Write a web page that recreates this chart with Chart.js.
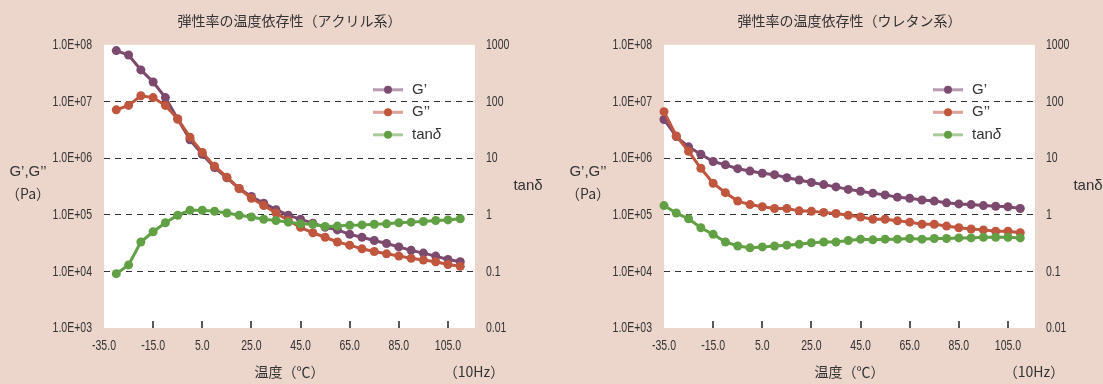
<!DOCTYPE html>
<html lang="ja">
<head>
<meta charset="utf-8">
<title>弾性率の温度依存性</title>
<script src="https://cdn.jsdelivr.net/npm/chart.js@4.4.1/dist/chart.umd.min.js"></script>
<style>
  html, body { margin: 0; padding: 0; background: #ecd6cc; }
  #wrap { position: relative; width: 1103px; height: 384px; overflow: hidden; }
  canvas { position: absolute; top: 0; }
  #chartA { left: 0; }
  #chartU { left: 560px; }
</style>
</head>
<body>
<div id="wrap">
  <canvas id="chartA" width="560" height="384"></canvas>
  <canvas id="chartU" width="543" height="384"></canvas>
</div>
<script>
// --- data (10Hz) ---
const seriesNames = ['G’', 'G’’', 'tanδ'];
const seriesColors = ['#7b4a6e', '#c0563e', '#62a045'];

// x axis
const xTickVals = [-35, -15, 5, 25, 45, 65, 85, 105];
const xTickLabels = ['-35.0', '-15.0', '5.0', '25.0', '45.0', '65.0', '85.0', '105.0'];
// left axis G',G'' (Pa)
const yTickVals = [1e3, 1e4, 1e5, 1e6, 1e7, 1e8];
const yTickLabels = ['1.0E+03', '1.0E+04', '1.0E+05', '1.0E+06', '1.0E+07', '1.0E+08'];
// right axis tanδ
const tanTickVals = [0.01, 0.1, 1, 10, 100, 1000];
const tanTickLabels = ['0.01', '0.1', '1', '10', '100', '1000'];

// アクリル系
const tempAcryl = [-30, -25, -20, -15, -10, -5, 0, 5, 10, 15, 20, 25, 30, 35, 40,
                   45, 50, 55, 60, 65, 70, 75, 80, 85, 90, 95, 100, 105, 110];
const gStorageAcryl = [7.9e7, 6.6e7, 3.6e7, 2.2e7, 1.17e7, 4.9e6, 2.1e6, 1.17e6, 6.8e5, 4.5e5,
                       2.9e5, 2.1e5, 1.6e5, 1.23e5, 9.8e4, 8.3e4, 7.1e4, 6.0e4, 5.4e4, 4.5e4,
                       4.0e4, 3.5e4, 3.1e4, 2.7e4, 2.35e4, 2.1e4, 1.86e4, 1.62e4, 1.48e4];
const gLossAcryl = [7.1e6, 8.5e6, 1.26e7, 1.17e7, 8.5e6, 4.9e6, 2.34e6, 1.26e6, 7.2e5, 4.6e5,
                    2.9e5, 1.95e5, 1.45e5, 1.07e5, 7.9e4, 6.0e4, 4.8e4, 4.0e4, 3.3e4, 2.9e4,
                    2.5e4, 2.24e4, 2.04e4, 1.86e4, 1.7e4, 1.58e4, 1.48e4, 1.32e4, 1.23e4];
const tanAcryl = [0.091, 0.13, 0.33, 0.50, 0.72, 0.98, 1.2, 1.2, 1.15, 1.07,
                  0.98, 0.91, 0.83, 0.79, 0.74, 0.69, 0.68, 0.62, 0.63, 0.65,
                  0.66, 0.68, 0.69, 0.72, 0.74, 0.76, 0.79, 0.81, 0.85];

// ウレタン系
const tempUrethane = [-35, -30, -25, -20, -15, -10, -5, 0, 5, 10, 15, 20, 25, 30, 35, 40,
                      45, 50, 55, 60, 65, 70, 75, 80, 85, 90, 95, 100, 105, 110];
const gStorageUrethane = [4.8e6, 2.4e6, 1.58e6, 1.17e6, 8.7e5, 7.6e5, 6.5e5, 5.9e5, 5.4e5, 5.1e5,
                          4.5e5, 4.1e5, 3.7e5, 3.4e5, 3.1e5, 2.8e5, 2.6e5, 2.4e5, 2.24e5, 2.04e5,
                          1.95e5, 1.82e5, 1.74e5, 1.62e5, 1.55e5, 1.51e5, 1.45e5, 1.41e5, 1.38e5, 1.29e5];
const gLossUrethane = [6.6e6, 2.45e6, 1.32e6, 6.6e5, 3.6e5, 2.45e5, 1.74e5, 1.51e5, 1.38e5, 1.29e5,
                       1.29e5, 1.17e5, 1.15e5, 1.10e5, 1.05e5, 9.8e4, 9.1e4, 8.3e4, 8.3e4, 7.8e4,
                       7.4e4, 6.8e4, 6.8e4, 6.3e4, 5.9e4, 5.6e4, 5.4e4, 5.1e4, 5.1e4, 4.8e4];
const tanUrethane = [1.45, 1.07, 0.85, 0.59, 0.45, 0.33, 0.28, 0.26, 0.27, 0.28,
                     0.29, 0.30, 0.32, 0.33, 0.33, 0.35, 0.37, 0.36, 0.37, 0.37,
                     0.38, 0.37, 0.38, 0.38, 0.39, 0.39, 0.40, 0.40, 0.40, 0.39];

const JP_FONT = "'Noto Sans CJK JP', sans-serif";
const LATIN_FONT = "'Liberation Sans', Arial, sans-serif";
const TEXT = '#333';
const HIDDEN = 'rgba(0,0,0,0)';

// tick labels in the reference use a condensed face: squeeze regular text
function narrowText(ctx, text, x, y, align) {
  ctx.save();
  ctx.translate(x, y);
  ctx.scale(0.7, 1);
  ctx.textAlign = align;
  ctx.fillText(text, 0, 0);
  ctx.restore();
}

// background, tick labels, inner tick marks, axis titles, legend
const decor = {
  id: 'decor',
  beforeDraw(chart) {
    const { ctx, chartArea: a } = chart;
    ctx.save();
    ctx.fillStyle = '#fff';
    ctx.fillRect(a.left, a.top, a.right - a.left, a.bottom - a.top);
    ctx.restore();
  },
  afterDraw(chart) {
    const { ctx, chartArea: a, scales } = chart;
    ctx.save();

    // tick labels
    ctx.fillStyle = '#333';
    ctx.textBaseline = 'middle';
    ctx.font = '15px ' + LATIN_FONT;
    scales.x.ticks.forEach(t => {
      narrowText(ctx, t.label, scales.x.getPixelForValue(t.value), 346, 'center');
    });
    scales.y.ticks.forEach(t => {
      narrowText(ctx, t.label, a.left - 12, scales.y.getPixelForValue(t.value), 'right');
    });
    scales.y1.ticks.forEach(t => {
      narrowText(ctx, t.label, a.right + 11, scales.y1.getPixelForValue(t.value), 'left');
    });

    // tick marks pointing inwards from the bottom edge
    ctx.strokeStyle = '#222';
    ctx.lineWidth = 1.5;
    scales.x.ticks.forEach(t => {
      if (t.value <= scales.x.min) return;
      const px = Math.round(scales.x.getPixelForValue(t.value));
      ctx.beginPath();
      ctx.moveTo(px, a.bottom);
      ctx.lineTo(px, a.bottom - 7);
      ctx.stroke();
    });

    // axis titles
    ctx.fillStyle = TEXT;
    ctx.textAlign = 'center';
    ctx.font = '15px ' + LATIN_FONT;
    ctx.fillText('G’,G’’', a.left - 76, 172);
    ctx.font = '14px ' + JP_FONT;
    ctx.fillText('（Pa）', a.left - 76, 194);
    ctx.font = '15px ' + LATIN_FONT;
    ctx.fillText('tanδ', a.right + 53, 186);
    ctx.font = '14px ' + JP_FONT;
    ctx.fillText('温度（℃）', (a.left + a.right) / 2, 372);
    ctx.fillText('（10Hz）', a.right - 1, 372);

    // legend inside the plot
    const x0 = a.left + 269;
    seriesNames.forEach((name, i) => {
      const y = a.top + 45 + i * 22.5;
      ctx.globalAlpha = 0.55;
      ctx.strokeStyle = seriesColors[i];
      ctx.lineWidth = 3;
      ctx.beginPath();
      ctx.moveTo(x0, y);
      ctx.lineTo(x0 + 30, y);
      ctx.stroke();
      ctx.globalAlpha = 1;
      ctx.fillStyle = seriesColors[i];
      ctx.beginPath();
      ctx.arc(x0 + 15, y, 4, 0, Math.PI * 2);
      ctx.fill();
      ctx.fillStyle = TEXT;
      ctx.textAlign = 'left';
      ctx.font = '15px ' + LATIN_FONT;
      if (name === 'tanδ') {
        ctx.fillText('tan', x0 + 39, y);
        const w = ctx.measureText('tan').width;
        ctx.font = 'italic 15px ' + LATIN_FONT;
        ctx.fillText('δ', x0 + 39 + w, y);
      } else {
        ctx.fillText(name, x0 + 39, y);
      }
    });
    ctx.restore();
  }
};

function dataset(temps, vals, i, axis, order) {
  return {
    label: seriesNames[i],
    data: temps.map((t, k) => ({ x: t, y: vals[k] })),
    yAxisID: axis,
    borderColor: seriesColors[i],
    backgroundColor: seriesColors[i],
    pointBackgroundColor: seriesColors[i],
    pointBorderWidth: 0,
    pointRadius: 4.5,
    borderWidth: 3,
    tension: 0,
    clip: false,
    order: order
  };
}

function makeChart(id, title, temps, gs, gl, tan) {
  const cv = document.getElementById(id);
  return new Chart(cv, {
    type: 'line',
    data: {
      datasets: [
        dataset(temps, gs, 0, 'y', 2),
        dataset(temps, gl, 1, 'y', 1),
        dataset(temps, tan, 2, 'y1', 0)
      ]
    },
    options: {
      responsive: false,
      animation: false,
      layout: { padding: 0 },
      plugins: {
        legend: { display: false },
        tooltip: { enabled: false },
        title: {
          display: true,
          text: title,
          fullSize: false,
          color: TEXT,
          font: { family: JP_FONT, size: 14, weight: 'normal', lineHeight: 1.2 },
          padding: { top: 12, bottom: 16 }
        }
      },
      scales: {
        x: {
          type: 'linear',
          min: -35,
          max: 116,
          afterBuildTicks: s => { s.ticks = xTickVals.map(v => ({ value: v })); },
          afterFit: s => { s.height = 56; },
          grid: { display: false },
          border: { display: false },
          ticks: {
            padding: 10,
            color: HIDDEN,
            maxRotation: 0,
            autoSkip: false,
            font: { size: 13 },
            callback: (v, i) => xTickLabels[i]
          }
        },
        y: {
          type: 'logarithmic',
          position: 'left',
          min: 1e3,
          max: 1e8,
          afterBuildTicks: s => { s.ticks = yTickVals.map(v => ({ value: v })); },
          afterFit: s => { s.width = 104; },
          grid: {
            drawTicks: false,
            lineWidth: 1,
            color: c => (c.index === 0 || c.index === yTickVals.length - 1) ? HIDDEN : '#333'
          },
          border: { display: false, dash: [6, 5] },
          ticks: {
            padding: 12,
            color: HIDDEN,
            autoSkip: false,
            font: { size: 13 },
            callback: (v, i) => yTickLabels[i]
          }
        },
        y1: {
          type: 'logarithmic',
          position: 'right',
          min: 0.01,
          max: 1000,
          afterBuildTicks: s => { s.ticks = tanTickVals.map(v => ({ value: v })); },
          afterFit: s => { s.width = cv.width - 475; },
          grid: { display: false, drawOnChartArea: false },
          border: { display: false },
          ticks: {
            padding: 11,
            color: HIDDEN,
            autoSkip: false,
            font: { size: 13 },
            callback: (v, i) => tanTickLabels[i]
          }
        }
      }
    },
    plugins: [decor]
  });
}

makeChart('chartA', '弾性率の温度依存性（アクリル系）', tempAcryl, gStorageAcryl, gLossAcryl, tanAcryl);
makeChart('chartU', '弾性率の温度依存性（ウレタン系）', tempUrethane, gStorageUrethane, gLossUrethane, tanUrethane);
</script>
</body>
</html>
